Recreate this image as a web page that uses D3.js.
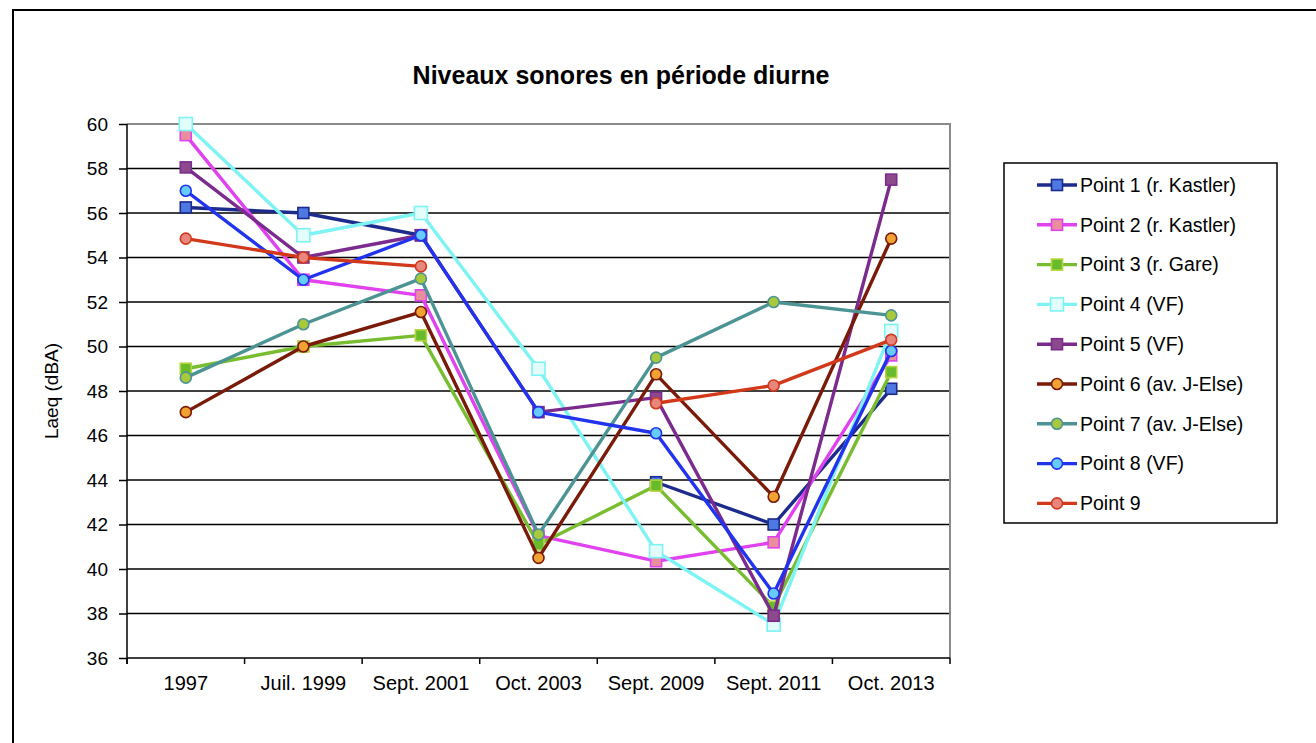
<!DOCTYPE html>
<html>
<head>
<meta charset="utf-8">
<script src="https://cdn.jsdelivr.net/npm/d3@7"></script>
<style>
  html, body { margin: 0; padding: 0; background: #fff; }
  svg { display: block; font-family: "Liberation Sans", Arial, sans-serif; }
</style>
</head>
<body>
<svg id="chart" width="1316" height="743"></svg>
<script>
// Survey dates (x categories)
const categories = ["1997", "Juil. 1999", "Sept. 2001", "Oct. 2003", "Sept. 2009", "Sept. 2011", "Oct. 2013"];

// Y axis ticks (dBA)
const yTicks = [36, 38, 40, 42, 44, 46, 48, 50, 52, 54, 56, 58, 60];

// Laeq measurements per point, null = no measurement
const point1 = [56.25, 56.0, 55.0, null, 43.9, 42.0, 48.1];
const point2 = [59.5, 53.0, 52.3, 41.5, 40.35, 41.2, 49.6];
const point3 = [49.0, 50.0, 50.5, 41.1, 43.75, 38.3, 48.85];
const point4 = [60.0, 55.0, 56.0, 49.0, 40.8, 37.5, 50.7];
const point5 = [58.05, 54.0, 55.0, 47.05, 47.7, 37.9, 57.5];
const point6 = [47.05, 50.0, 51.55, 40.5, 48.75, 43.25, 54.85];
const point7 = [48.6, 51.0, 53.05, 41.55, 49.5, 52.0, 51.4];
const point8 = [57.0, 53.0, 55.0, 47.05, 46.1, 38.9, 49.8];
const point9 = [54.85, 54.0, 53.6, null, 47.45, 48.25, 50.3];

const seriesNames = [
  "Point 1 (r. Kastler)", "Point 2 (r. Kastler)", "Point 3 (r. Gare)",
  "Point 4 (VF)", "Point 5 (VF)", "Point 6 (av. J-Else)",
  "Point 7 (av. J-Else)", "Point 8 (VF)", "Point 9"
];
const seriesValues = [point1, point2, point3, point4, point5, point6, point7, point8, point9];

// Line colour, marker fill, marker outline, marker shape
const seriesStyles = [
  { line: "#1C2B8C", fill: "#4E78E2", stroke: "#1C2B8C", shape: "square", size: 11 },
  { line: "#E042F0", fill: "#E88E9C", stroke: "#E042F0", shape: "square", size: 11 },
  { line: "#77BD2F", fill: "#68BC2C", stroke: "#B4D33C", shape: "square", size: 11 },
  { line: "#7EF3F3", fill: "#E3FCFC", stroke: "#7EF3F3", shape: "square", size: 13 },
  { line: "#7B2B8D", fill: "#8C4A8C", stroke: "#7B2B8D", shape: "square", size: 11 },
  { line: "#7A1A08", fill: "#F0A232", stroke: "#7A1A08", shape: "circle", size: 11 },
  { line: "#4C9494", fill: "#A9C93C", stroke: "#4C9494", shape: "circle", size: 11 },
  { line: "#2233EE", fill: "#66CCFF", stroke: "#2233EE", shape: "circle", size: 11 },
  { line: "#D2391A", fill: "#E8857C", stroke: "#D2391A", shape: "circle", size: 11 }
];

const series = seriesNames.map((name, i) => ({
  name,
  values: seriesValues[i].map((v, j) => ({ cat: categories[j], v })),
  style: seriesStyles[i]
}));

const svg = d3.select("#chart");

// Outer frame of the chart object
svg.append("rect")
  .attr("x", 13).attr("y", 10)
  .attr("width", 1320).attr("height", 760)
  .attr("fill", "none").attr("stroke", "#000").attr("stroke-width", 2);

const plot = { left: 127, right: 950, top: 124, bottom: 658 };

const x = d3.scaleBand().domain(categories).range([plot.left, plot.right]).padding(0);
const y = d3.scaleLinear().domain([36, 60]).range([plot.bottom, plot.top]);
const cx = c => x(c) + x.bandwidth() / 2;

// Title
svg.append("text")
  .attr("x", 621).attr("y", 84)
  .attr("text-anchor", "middle")
  .attr("font-size", 25).attr("font-weight", "bold")
  .text("Niveaux sonores en période diurne");

// Horizontal gridlines
svg.append("g").selectAll("line")
  .data(yTicks.filter(t => t !== 60 && t !== 36))
  .join("line")
  .attr("x1", plot.left).attr("x2", plot.right)
  .attr("y1", d => y(d)).attr("y2", d => y(d))
  .attr("stroke", "#000").attr("stroke-width", 1.5);

// Plot-area border on top and right
svg.append("path")
  .attr("d", `M${plot.left},${y(60)}H${plot.right}V${plot.bottom}`)
  .attr("fill", "none").attr("stroke", "#8a8a8a").attr("stroke-width", 2);

// Y axis
const yAxis = svg.append("g")
  .attr("transform", `translate(${plot.left},0)`)
  .call(d3.axisLeft(y).tickValues(yTicks).tickSize(8).tickPadding(11).tickFormat(d3.format("d")));
yAxis.select(".domain").attr("stroke", "#000").attr("stroke-width", 1.5)
  .attr("d", `M0,${plot.top}V${plot.bottom + 6}`);
yAxis.selectAll(".tick line").attr("stroke", "#000").attr("stroke-width", 1.5);
yAxis.selectAll(".tick text").attr("font-size", 19).attr("fill", "#000")
  .attr("font-family", "Liberation Sans, Arial, sans-serif");

// X axis: labels centred in the bands, ticks on the band edges
const xAxis = svg.append("g")
  .attr("transform", `translate(0,${plot.bottom})`)
  .call(d3.axisBottom(x).tickSize(0).tickPadding(18));
xAxis.select(".domain").attr("stroke", "#000").attr("stroke-width", 1.5)
  .attr("d", `M${plot.left},0H${plot.right}`);
xAxis.selectAll(".tick text").attr("font-size", 20).attr("fill", "#000")
  .attr("font-family", "Liberation Sans, Arial, sans-serif");

const edges = categories.map(c => x(c)).concat([plot.right]);
svg.append("g").selectAll("line")
  .data(edges)
  .join("line")
  .attr("x1", d => d).attr("x2", d => d)
  .attr("y1", plot.bottom).attr("y2", plot.bottom + 6)
  .attr("stroke", "#000").attr("stroke-width", 1.5);

// Y axis title
svg.append("text")
  .attr("transform", `translate(58,${(plot.top + plot.bottom) / 2}) rotate(-90)`)
  .attr("text-anchor", "middle")
  .attr("font-size", 19)
  .text("Laeq (dBA)");

function drawMarker(g, style, px, py) {
  if (style.shape === "square") {
    g.append("rect")
      .attr("x", px - style.size / 2).attr("y", py - style.size / 2)
      .attr("width", style.size).attr("height", style.size)
      .attr("fill", style.fill).attr("stroke", style.stroke).attr("stroke-width", 1.6);
  } else {
    g.append("circle")
      .attr("cx", px).attr("cy", py).attr("r", style.size / 2)
      .attr("fill", style.fill).attr("stroke", style.stroke).attr("stroke-width", 1.6);
  }
}

const line = d3.line()
  .defined(d => d.v !== null)
  .x(d => cx(d.cat))
  .y(d => y(d.v));

// Series lines and markers, drawn in order
const seriesLayer = svg.append("g");
series.forEach(s => {
  const g = seriesLayer.append("g");
  g.append("path")
    .attr("d", line(s.values))
    .attr("fill", "none")
    .attr("stroke", s.style.line)
    .attr("stroke-width", 3.4)
    .attr("stroke-linejoin", "round");
  s.values.filter(d => d.v !== null).forEach(d => drawMarker(g, s.style, cx(d.cat), y(d.v)));
});

// Legend
const legend = { x: 1004, y: 163, w: 273, h: 360, row0: 185, step: 39.8 };
svg.append("rect")
  .attr("x", legend.x).attr("y", legend.y)
  .attr("width", legend.w).attr("height", legend.h)
  .attr("fill", "#fff").attr("stroke", "#000").attr("stroke-width", 1.5);

series.forEach((s, i) => {
  const ly = legend.row0 + i * legend.step;
  const g = svg.append("g");
  g.append("line")
    .attr("x1", 1037).attr("x2", 1077)
    .attr("y1", ly).attr("y2", ly)
    .attr("stroke", s.style.line).attr("stroke-width", 3.4);
  drawMarker(g, s.style, 1057, ly);
  g.append("text")
    .attr("x", 1080).attr("y", ly)
    .attr("dy", "0.35em")
    .attr("font-size", 19.5)
    .text(s.name);
});
</script>
</body>
</html>
